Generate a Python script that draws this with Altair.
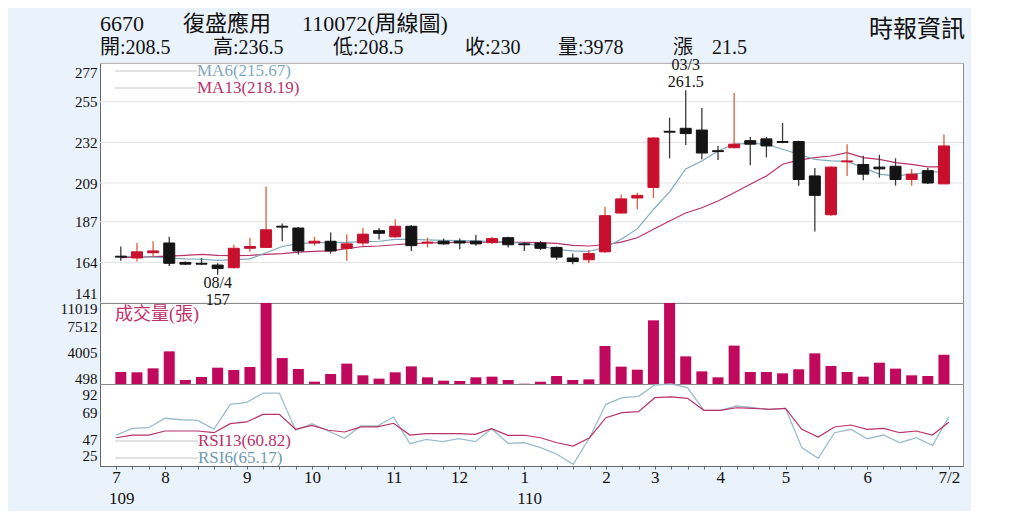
import altair as alt
import pandas as pd

# ---------------- data ----------------
week = list(range(52))
opens = [167.5, 166.5, 169.5, 175, 164, 163.5, 162.5, 161, 172, 172.5,
         184.5, 183.5, 175, 176, 172, 175, 182, 178.5, 184.5, 175,
         176, 176, 176, 175.2, 178, 174.5, 175, 172.5, 166.5, 165.5,
         170, 192, 200.5, 206.5, 238.3, 240, 239, 227.3, 229, 233,
         234, 232.5, 232.5, 213, 191, 221, 219.5, 218, 218.5, 211,
         216, 208.5]
highs = [173, 175, 176, 178.5, 164.5, 166.5, 163.5, 174, 178, 207,
         186, 184, 178.5, 181, 180, 183.5, 183.5, 188.5, 185, 178,
         177.5, 177.5, 179.5, 178.5, 178.5, 175.5, 176, 173, 169, 171,
         195.5, 202.5, 203.5, 235, 246, 261.5, 251.5, 230, 260, 235,
         235, 243, 233, 217.5, 218.5, 231, 224.5, 225, 223, 217,
         217.5, 236.5]
lows = [165, 164.5, 167, 162, 162.5, 162.5, 157, 160.5, 170, 172.5,
        176, 168.5, 173.5, 169, 165, 173.5, 177, 178, 170.5, 172.5,
        174, 171.5, 173.5, 174.5, 172.5, 170.5, 171, 165.5, 163, 163.5,
        169.5, 191.5, 194, 200.5, 223, 230.5, 222.5, 222, 228.5, 219,
        223.5, 231.5, 207.5, 181.5, 190.5, 213, 210.5, 212, 207.5, 207.5,
        208.5, 208.5]
closes = [167, 170, 170.5, 163.5, 163, 163, 160.5, 172, 173, 182.5,
          184, 170.5, 176, 170.5, 174.5, 180, 180.5, 184.5, 173.5, 175.5,
          174.5, 175, 174.5, 177.5, 174, 174, 172, 167, 164.5, 169,
          190.5, 200, 202, 234.5, 237.8, 237, 226, 226.8, 231, 231,
          230, 232, 211, 202, 218, 221.5, 214, 217, 211, 214,
          209, 230]
ma6 = [167.6, 167.2, 167.0, 166.5, 166.0, 165.8, 165.2, 165.6, 166.0, 169.5,
       173.0, 174.6, 175.2, 175.2, 175.4, 175.8, 176.0, 177.0, 177.1, 176.8,
       176.5, 176.3, 176.2, 175.8, 175.5, 174.8, 173.3, 171.4, 170.5, 170.2,
       172.5, 177.1, 183.0, 194.0, 204.0, 217.0, 221.5, 227.1, 231.0, 231.4,
       231.0, 228.1, 225.3, 222.4, 221.5, 221.2, 217.7, 214.0, 213.0, 214.0,
       214.9, 215.67]
ma13 = [166.7, 167.0, 167.3, 167.6, 168.0, 168.6, 168.0, 167.8, 168.0, 168.6,
        169.0, 169.8, 170.3, 170.5, 171.8, 173.0, 173.3, 174.0, 174.6, 175.0,
        175.2, 175.4, 175.5, 175.5, 175.4, 175.3, 175.2, 174.8, 173.7, 173.3,
        174.0, 175.5, 178.0, 182.8, 187.5, 192.0, 195.0, 198.8, 203.5, 208.3,
        213.0, 219.6, 222.0, 223.4, 224.3, 226.2, 223.4, 222.4, 220.5, 219.6,
        218.1, 218.19]
volume = [1632, 1590, 2130, 4440, 544, 952, 2220, 1900, 2310, 11019,
          3530, 2040, 320, 1360, 2770, 1180, 730, 1590, 2400, 910,
          450, 410, 910, 1000, 540, 40, 310, 1088, 544, 630,
          5170, 2360, 1950, 8660, 11019, 3760, 1720, 910, 5220, 1630,
          1630, 1450, 2000, 4170, 2450, 1630, 1000, 2900, 2090, 1180,
          1090, 3978]
rsi6 = [50.3, 55.8, 56.3, 64.0, 62.8, 62.3, 55.2, 75.4, 77.0, 84.6,
        84.6, 54.2, 59.6, 53.6, 47.6, 57.7, 57.7, 65.0, 43.2, 46.8,
        44.9, 47.3, 44.9, 55.5, 43.5, 44.0, 40.0, 34.6, 26.4, 48.1,
        75.4, 80.8, 81.9, 91.2, 92.0, 89.0, 70.5, 70.5, 74.0, 72.6,
        71.3, 72.1, 40.0, 31.3, 52.2, 55.0, 47.3, 50.3, 44.0, 48.1,
        41.9, 65.17]
rsi13 = [48.1, 50.3, 50.3, 53.6, 53.6, 53.6, 52.2, 59.6, 61.0, 67.2,
         67.2, 55.0, 58.2, 54.2, 52.8, 56.9, 56.9, 59.9, 50.3, 51.4,
         51.4, 51.4, 50.9, 55.5, 50.1, 50.1, 48.1, 44.0, 41.3, 48.1,
         64.5, 68.6, 69.4, 80.8, 81.4, 80.3, 70.5, 70.5, 72.6, 72.1,
         71.3, 72.1, 55.0, 48.7, 56.9, 58.5, 55.0, 55.8, 52.2, 53.6,
         50.3, 60.82]

month_idx = [0, 3, 8, 12, 17, 21, 25, 30, 33, 37, 41, 46, 51]
month_lbl = ['7', '8', '9', '10', '11', '12', '1', '2', '3', '4', '5', '6', '7/2']
year_idx = [0, 25]
year_lbl = ['109', '110']
price_ticks = [141, 164, 187, 209, 232, 255, 277]
vol_ticks = [498, 4005, 7512, 11019]
rsi_ticks = [25, 47, 69, 92]
low_mark = {'i': 6, 'date': '08/4', 'val': 157}
high_mark = {'i': 35, 'date': '03/3', 'val': 261.5}

# ---------------- styling ----------------
W = 863
SERIF = "Liberation Serif, Noto Sans CJK TC"
RED = "#c8102e"
BLACK = "#141414"
RED_WICK = "#d8603c"
BLACK_WICK = "#3a3a3a"
VOL = "#c0085c"
MA6_C = "#7fa9c0"
MA13_C = "#b8336a"
BG = "#eaf2fb"

df = pd.DataFrame({'i': week, 'o': opens, 'h': highs, 'l': lows, 'c': closes,
                   'ma6': ma6, 'ma13': ma13, 'vol': volume,
                   'rsi6': rsi6, 'rsi13': rsi13})

xscale = alt.Scale(domain=[-0.98, 51.87], nice=False, zero=False)
one = alt.Data(values=[{}])


def yaxis(vals, offset=0, flush_off=0):
    return alt.Axis(values=vals, title=None, ticks=False, labelFlush=True,
                    labelFlushOffset=flush_off,
                    labelOverlap=False, format="d", labelOffset=offset,
                    labelFont=SERIF, labelFontSize=15, labelColor="#111",
                    labelPadding=3, domainColor="#666", grid=False)


def txt(s, x, y, size=17, color="#111", align="left"):
    return alt.Chart(one).mark_text(text=s, align=align, baseline="middle",
                                    fontSize=size, font=SERIF, color=color).encode(
        x=alt.value(x), y=alt.value(y))


def swatch(y, x1=15, x2=97):
    return alt.Chart(one).mark_rule(color="#c4c4c4", strokeWidth=1).encode(
        x=alt.value(x1), x2=alt.value(x2), y=alt.value(y))


# ---------------- price panel ----------------
pscale = alt.Scale(domain=[141, 277], nice=False, zero=False)
PAX = yaxis(price_ticks, 0, -2)
X = alt.X('i:Q', scale=xscale, axis=None)
base = alt.Chart(df).encode(x=X)
grid = alt.Chart(pd.DataFrame({'p': price_ticks})).mark_rule(
    color="#e2e2e2", strokeWidth=1).encode(y=alt.Y('p:Q', scale=pscale, axis=PAX))
up = "datum.c >= datum.o"
wick = base.mark_rule(strokeWidth=1.3).encode(
    y=alt.Y('l:Q', scale=pscale, axis=PAX), y2='h:Q',
    color=alt.condition(up, alt.value(RED_WICK), alt.value(BLACK_WICK)))
body = base.mark_bar(size=11, strokeWidth=1).encode(
    y=alt.Y('o:Q', scale=pscale, axis=PAX), y2='c:Q',
    color=alt.condition(up, alt.value(RED), alt.value(BLACK)),
    stroke=alt.condition(up, alt.value(RED), alt.value(BLACK)))
l_ma6 = base.mark_line(color=MA6_C, strokeWidth=1.2).encode(
    y=alt.Y('ma6:Q', scale=pscale, axis=PAX))
l_ma13 = base.mark_line(color=MA13_C, strokeWidth=1.2).encode(
    y=alt.Y('ma13:Q', scale=pscale, axis=PAX))

lowdf = pd.DataFrame([low_mark])
highdf = pd.DataFrame([high_mark])
ann = [
    alt.Chart(lowdf).mark_text(font=SERIF, fontSize=16, color="#111", dy=8).encode(
        x=X, y=alt.Y('val:Q', scale=pscale, axis=PAX), text='date:N'),
    alt.Chart(highdf).mark_text(font=SERIF, fontSize=16, color="#111", dy=-25).encode(
        x=X, y=alt.Y('val:Q', scale=pscale, axis=PAX), text='date:N'),
    alt.Chart(highdf).mark_text(font=SERIF, fontSize=16, color="#111", dy=-8).encode(
        x=X, y=alt.Y('val:Q', scale=pscale, axis=PAX), text='val:Q'),
]

headers = [
    txt("6670", 0, -39, 22), txt("復盛應用", 83, -39, 22), txt("110072(周線圖)", 202, -39, 22),
    txt("開:208.5", 0, -15, 20), txt("高:236.5", 113, -15, 20), txt("低:208.5", 233, -15, 20),
    txt("收:230", 365, -15, 20), txt("量:3978", 458, -15, 20), txt("漲", 573, -15, 20),
    txt("21.5", 612, -15, 20),
    txt("時報資訊", 865, -33, 24, align="right"),
]
legend_p = [swatch(8), swatch(25),
            txt("MA6(215.67)", 97, 8, 17, MA6_C), txt("MA13(218.19)", 97, 25, 17, MA13_C)]

price = alt.layer(grid, l_ma13, l_ma6, wick, body, *ann, *legend_p, *headers).properties(
    width=W, height=240)

# ---------------- volume panel ----------------
vscale = alt.Scale(domain=[0, 11019], nice=False)
vol = alt.layer(
    alt.Chart(df).mark_bar(size=11, color=VOL).encode(
        x=X, y=alt.Y('vol:Q', scale=vscale, axis=yaxis(vol_ticks, -2, 0))),
    txt("成交量(張)", 15, 12, 18, "#c0306a"),
    # low-price value label of 08/4 sits across the panel border, drawn last so it stays on top
    alt.Chart(lowdf).mark_text(font=SERIF, fontSize=16, color="#111").encode(
        x=X, y=alt.value(-3), text='val:Q'),
).properties(width=W, height=81)

# ---------------- RSI panel ----------------
rscale = alt.Scale(domain=[25, 92], nice=False, zero=False, clamp=True)
RAX = yaxis(rsi_ticks, 0, -3)
lbl_expr = ("indexof(%s, datum.value) >= 0 ? %s[indexof(%s, datum.value)] : ''"
            % (str(month_idx), str(month_lbl), str(month_idx)))
XAX = alt.Axis(values=week, labelExpr=lbl_expr, title=None, tickSize=3,
               tickColor="#666", domainColor="#666", labelFont=SERIF,
               labelFontSize=17, labelColor="#111", labelPadding=0,
               labelOverlap=False, labelFlush=False, labelBound=False, grid=False)
XR = alt.X('i:Q', scale=xscale, axis=XAX)
rbase = alt.Chart(df).encode(x=XR)
years = pd.DataFrame({'i': year_idx, 't': year_lbl})
rsi = alt.layer(
    rbase.mark_line(color="#9bbccb", strokeWidth=1.3).encode(
        y=alt.Y('rsi6:Q', scale=rscale, axis=RAX)),
    rbase.mark_line(color=MA13_C, strokeWidth=1.2).encode(
        y=alt.Y('rsi13:Q', scale=rscale, axis=RAX)),
    swatch(57, 15, 98), swatch(74, 15, 98),
    txt("RSI13(60.82)", 98, 57, 17, MA13_C), txt("RSI6(65.17)", 98, 74, 17, "#6f9ab3"),
    alt.Chart(years).mark_text(font=SERIF, fontSize=17, color="#111", align="left", dx=-7).encode(
        x=XR, y=alt.value(115), text='t:N'),
).properties(width=W, height=82)

chart = alt.vconcat(price, vol, rsi, spacing=0, bounds="flush").properties(
    background=BG,
    padding={"left": 51, "top": 4, "right": 5, "bottom": 3},
).configure_view(stroke="#8a8a8a", fill="white").configure_concat(spacing=0)

chart.save("out.html", embed_options={"renderer": "svg", "actions": False})
